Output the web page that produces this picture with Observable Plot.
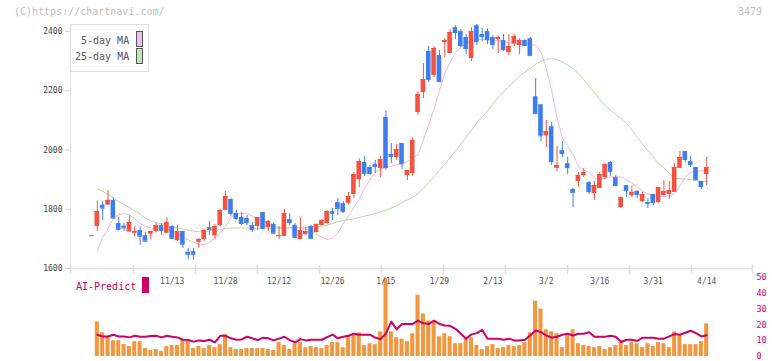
<!DOCTYPE html>
<html><head><meta charset="utf-8">
<script src="https://cdn.jsdelivr.net/npm/d3@7"></script>
<script src="https://cdn.jsdelivr.net/npm/@observablehq/plot@0.6"></script>
<style>
body{margin:0;background:#fff;}
#wrap{position:relative;width:772px;height:361px;overflow:hidden;font-family:"DejaVu Sans Mono",monospace;}
#wrap svg{position:absolute;left:0;top:0;}
.t{position:absolute;white-space:nowrap;font-size:10px;line-height:10px;}
</style></head><body><div id="wrap"></div>
<script>
// ---- data ----
const openP  = [1711,1742,1814,1814,1830,1752,1743,1723,1719,1728,1711,1716,1725,1745,1719,1742,1694,1725,1655,1657,1689,1698,1738,1710,1745,1796,1833,1786,1772,1769,1745,1742,1789,1738,1749,1708,1708,1765,1745,1698,1715,1742,1721,1745,1752,1792,1823,1819,1820,1850,1900,1958,1941,1951,1938,2110,1985,1975,2022,1914,1921,2127,2194,2333,2252,2319,2363,2326,2413,2400,2380,2309,2420,2390,2400,2380,2373,2370,2329,2359,2353,2370,2376,2180,2153,2048,2079,1938,1998,1954,1867,1894,1914,1890,1853,1870,1907,1958,1907,1806,1880,1846,1860,1826,1823,1850,1823,1846,1850,1857,1938,1995,1961,1941,1894,1917];
const closeP = [1711,1792,1804,1830,1770,1732,1737,1755,1725,1709,1692,1725,1745,1728,1755,1701,1725,1682,1648,1648,1698,1728,1732,1742,1796,1843,1786,1769,1752,1755,1732,1772,1735,1759,1719,1711,1786,1755,1705,1728,1725,1701,1749,1762,1792,1786,1803,1792,1843,1917,1961,1921,1921,1944,1968,1941,1978,2002,1954,1931,2032,2187,2238,2238,2343,2231,2370,2397,2397,2353,2343,2400,2366,2383,2373,2356,2380,2339,2349,2383,2370,2353,2319,2123,2048,2062,1961,1948,1988,1941,1857,1914,1924,1860,1880,1917,1951,1927,1880,1840,1863,1857,1850,1850,1819,1823,1873,1860,1863,1941,1975,1968,1951,1900,1877,1941];
const highP  = [1711,1826,1826,1863,1839,1772,1753,1778,1740,1740,1722,1725,1752,1752,1772,1745,1745,1725,1668,1668,1701,1732,1759,1749,1799,1860,1836,1796,1789,1779,1755,1772,1789,1762,1755,1742,1799,1786,1752,1772,1740,1745,1749,1765,1796,1803,1836,1826,1857,1924,1971,1978,1948,1965,1978,2133,2022,2019,2022,1931,2042,2197,2292,2350,2350,2336,2376,2407,2420,2407,2390,2413,2424,2410,2410,2386,2386,2390,2390,2390,2376,2373,2380,2241,2153,2100,2093,2012,2029,1975,1870,1924,1938,1894,1894,1924,1954,1961,1914,1840,1880,1877,1863,1857,1836,1850,1873,1897,1894,1954,1995,1995,1978,1941,1894,1975];
const lowP   = [1711,1725,1762,1814,1770,1726,1725,1723,1706,1679,1692,1696,1720,1711,1719,1698,1691,1668,1630,1628,1668,1692,1711,1698,1742,1796,1776,1762,1745,1745,1722,1728,1732,1725,1719,1698,1708,1745,1701,1698,1711,1701,1721,1745,1749,1762,1779,1785,1815,1836,1873,1911,1914,1921,1907,1931,1954,1965,1934,1897,1910,2117,2174,2228,2245,2231,2312,2326,2373,2346,2322,2299,2353,2366,2356,2339,2326,2333,2319,2349,2322,2353,2319,2123,2029,2009,1948,1927,1975,1917,1806,1873,1907,1850,1830,1870,1900,1911,1877,1803,1840,1840,1836,1823,1803,1813,1820,1846,1833,1857,1938,1958,1941,1897,1867,1880];
const ma5 = [null,1659,1705,1735,1768,1782,1785,1781,1768,1752,1742,1737,1734,1733,1730,1727,1716,1706,1697,1689,1682,1681,1688,1702,1718,1742,1772,1784,1787,1785,1778,1768,1760,1750,1744,1738,1737,1738,1738,1737,1733,1726,1715,1705,1698,1702,1720,1750,1778,1805,1835,1870,1900,1925,1935,1941,1945,1950,1955,1962,1972,1985,2035,2085,2140,2200,2260,2295,2330,2347,2360,2370,2373,2373,2372,2371,2369,2366,2362,2360,2357,2356,2356,2354,2330,2275,2200,2110,2040,2015,1985,1945,1932,1925,1905,1900,1906,1909,1910,1908,1900,1888,1876,1862,1851,1846,1843,1843,1845,1852,1880,1908,1925,1930,1930,1930];
const ma25 = [null,1869,1860,1850,1838,1826,1817,1806,1795,1785,1770,1760,1755,1750,1745,1740,1736,1733,1730,1726,1724,1724,1727,1729,1731,1735,1737,1737,1737,1736,1736,1736,1736,1736,1736,1736,1736,1737,1737,1738,1739,1740,1741,1743,1746,1752,1758,1762,1765,1768,1772,1777,1781,1786,1791,1797,1804,1812,1822,1832,1840,1853,1870,1890,1910,1932,1952,1975,1995,2020,2045,2068,2092,2112,2132,2155,2178,2196,2215,2232,2250,2263,2276,2290,2300,2307,2308,2306,2298,2287,2274,2258,2238,2215,2195,2170,2150,2135,2120,2108,2090,2068,2043,2020,1998,1976,1955,1940,1920,1905,1903,1902,1900,1897,1895,1894];
const volume = [null,21.9,15.0,12.5,10.0,10.0,7.5,6.3,9.4,9.4,5.0,3.8,4.4,3.1,6.3,6.9,6.9,10.0,9.4,5.0,6.3,5.0,6.9,5.6,7.5,13.8,5.6,4.4,4.4,5.0,5.0,5.0,5.0,4.4,3.8,8.8,6.9,4.4,8.1,8.8,5.6,6.3,5.6,5.0,6.9,8.8,8.8,5.6,12.5,13.8,15.0,6.9,8.1,7.5,15.6,49.4,15.6,11.9,11.0,9.4,14.4,38.8,26.9,22.5,21.9,12.5,14.4,12.5,8.1,8.1,11.3,11.9,6.9,4.4,6.3,7.5,5.0,5.6,6.9,6.3,6.9,8.8,15.0,35.0,30.0,16.9,15.6,14.4,5.6,13.8,16.9,8.1,6.9,6.3,5.6,6.3,4.4,5.6,6.9,8.8,6.9,8.8,8.1,5.6,8.1,6.3,8.8,8.1,5.6,15.6,13.1,7.5,7.5,7.5,9.4,20.6];
const aiPredict = [null,13.8,12.7,12.7,13.8,12.7,12.7,12.1,13.1,12.5,12.5,12.9,13.1,12.1,13.1,12.5,12.1,10.6,10.4,9.4,10.2,9.8,10.6,9.0,13.1,13.1,11.5,10.6,10.8,12.5,11.5,10.4,11.9,11.5,10.2,11.3,12.5,10.4,9.0,11.0,10.2,10.6,10.6,10.6,12.3,13.8,11.5,12.5,13.1,14.4,13.8,13.8,13.8,11.9,11.0,14.6,22.1,17.2,20.6,20.6,20.6,22.7,21.0,20.6,22.7,20.6,19.6,19.4,17.5,14.4,11.3,14.0,14.8,16.9,11.3,11.3,11.3,10.6,11.3,10.2,10.2,10.6,13.5,16.5,15.4,13.3,11.9,12.5,13.8,14.4,13.3,14.4,14.4,15.4,12.5,12.5,12.5,13.1,12.5,9.2,10.6,10.6,9.8,11.9,11.9,11.9,11.3,11.3,12.7,14.2,13.8,15.0,16.3,14.8,12.7,13.5];
const dateIdx = [15,25,35,45,55,65,75,85,95,105,115];
const dateLabels = ["11/13","11/28","12/12","12/26","1/15","1/29","2/13","3/2","3/16","3/31","4/14"];
const gridIdx = [-4.02,7.76,19.36,30.96,42.56,54.16,65.76,77.36,88.96,100.56,112.16,123.57];
const priceTicks = [1600,1800,2000,2200,2400];
const volTicks = [0,10,20,30,40,50];

// ---- build ----
const UP = "#f4523f", DN = "#3f7def";
const xDomain = [-4.02, 123.57];
const candles = openP.map((o, i) => ({i, o, c: closeP[i], h: highP[i], l: lowP[i], col: closeP[i] >= o ? UP : DN}));
const ma5Data = ma5.map((v, i) => ({i, v})).filter(d => d.v != null);
const ma25Data = ma25.map((v, i) => ({i, v})).filter(d => d.v != null);
const volData = volume.map((v, i) => ({i, v})).filter(d => d.v != null);
const aiData = aiPredict.map((v, i) => ({i, v})).filter(d => d.v != null);
const hw = 0.43;

const main = Plot.plot({
  width: 772, height: 361,
  marginLeft: 70, marginRight: 20, marginTop: 24, marginBottom: 93,
  x: {domain: xDomain, axis: null},
  y: {domain: [1600, 2424], axis: null},
  color: {type: "identity"},
  style: {background: "transparent", fontFamily: "DejaVu Sans Mono", fontSize: "8px"},
  marks: [
    Plot.ruleX([xDomain[0]], {y1: 1600, y2: 2424, stroke: "#dedede"}),
    Plot.ruleY([1600], {x1: xDomain[0], x2: xDomain[1], stroke: "#dedede", strokeWidth: 1.5}),
    Plot.ruleX(gridIdx, {y1: 1610, y2: 1580, stroke: "#dedede", strokeWidth: 1.5}),
    Plot.axisY(priceTicks, {anchor: "left", label: null, tickSize: 5, tickPadding: 3, tickFormat: "d", stroke: "#cfcfcf", fill: "#444", fontSize: 8}),
    Plot.axisX(dateIdx, {anchor: "bottom", label: null, tickSize: 0, tickPadding: 10, tickFormat: d => dateLabels[dateIdx.indexOf(d)], fill: "#555", fontSize: 8}),
    Plot.line(ma25Data, {x: "i", y: "v", stroke: "#b4dba6", strokeWidth: 1}),
    Plot.line(ma5Data, {x: "i", y: "v", stroke: "#ebb6eb", strokeWidth: 1}),
    Plot.ruleX(candles, {x: "i", y1: "l", y2: "h", stroke: "col", strokeWidth: 1}),
    Plot.rect(candles, {x1: d => d.i - hw, x2: d => d.i + hw, y1: "o", y2: "c", fill: "col"}),
    Plot.ruleY(candles, {y: "c", x1: d => d.i - hw, x2: d => d.i + hw, stroke: "col", strokeWidth: 1})
  ]
});

const vol = Plot.plot({
  width: 772, height: 361,
  marginLeft: 70, marginRight: 20, marginTop: 277, marginBottom: 5,
  x: {domain: xDomain, axis: null},
  y: {domain: [0, 50], axis: null},
  style: {background: "transparent", fontFamily: "DejaVu Sans Mono", fontSize: "8.5px"},
  marks: [
    Plot.rect(volData, {x1: d => d.i - 0.38, x2: d => d.i + 0.38, y1: 0, y2: "v", fill: "#f0973f"}),
    Plot.line(aiData, {x: "i", y: "v", stroke: "#cc0066", strokeWidth: 2}),
    Plot.axisY(volTicks, {anchor: "right", label: null, tickSize: 0, tickPadding: 4, tickFormat: "d", fill: "#cc0066", fontSize: 8.5})
  ]
});

const wrap = document.getElementById("wrap");
wrap.appendChild(vol);
wrap.appendChild(main);

function addText(txt, left, top, color, extra) {
  const d = document.createElement("div");
  d.className = "t"; d.textContent = txt;
  d.style.left = left + "px"; d.style.top = top + "px"; d.style.color = color;
  if (extra) Object.assign(d.style, extra);
  wrap.appendChild(d);
  return d;
}
function addBox(left, top, w, h, styles) {
  const d = document.createElement("div");
  Object.assign(d.style, {position: "absolute", left: left + "px", top: top + "px", width: w + "px", height: h + "px", boxSizing: "border-box"}, styles);
  wrap.appendChild(d);
}
addText("(C)https://chartnavi.com/", 14, 7, "#bdbdbd");
addText("3479", 738, 7, "#bdbdbd");
addBox(70, 24, 79, 48, {border: "1px solid #dddddd", background: "#fff"});
addText("5-day MA", 81, 36, "#555");
addText("25-day MA", 75, 52, "#555");
addBox(136, 31, 7, 16, {border: "1px solid #555", background: "#efbdef"});
addBox(136, 48, 7, 16, {border: "1px solid #555", background: "#c0e2b2"});
addText("AI-Predict", 76, 282, "#cc0066");
addBox(142, 277, 7, 16, {background: "#cc0066"});
</script>
</body></html>
